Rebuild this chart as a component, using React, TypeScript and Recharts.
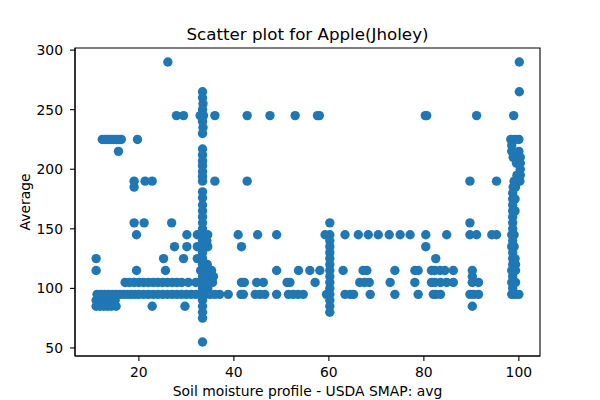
import React from 'react';
import { ScatterChart, Scatter, XAxis, YAxis, ReferenceArea } from 'recharts';

// Average levels (y) and the soil-moisture readings (x) observed at each level
const avg290 = [26.1, 100.1];
const avg265 = [33.4, 100.1];
const avg260 = [33.4];
const avg255 = [33.5];
const avg250 = [33.4];
const avg245 = [27.9, 29.4, 32.9, 33.6, 36.0, 42.8, 47.6, 52.9, 57.6, 58.0, 80.3, 80.6, 91.1, 98.9];
const avg240 = [33.4];
const avg235 = [33.5];
const avg230 = [33.4];
const avg225 = [12.3, 12.9, 13.5, 14.1, 14.7, 15.3, 15.9, 16.3, 19.7, 98.3, 99.2, 100.0];
const avg220 = [98.5];
const avg217 = [33.4];
const avg215 = [15.7, 98.5, 100.0];
const avg212 = [33.4];
const avg210 = [98.8, 100.3];
const avg207 = [33.4];
const avg205 = [99.5, 100.3];
const avg203 = [33.4];
const avg200 = [100.3];
const avg198 = [33.4];
const avg195 = [99.6, 100.3];
const avg194 = [33.4];
const avg190 = [19.0, 21.3, 22.8, 33.4, 36.0, 42.8, 89.7, 95.3, 99.0, 100.2];
const avg185 = [19.0, 98.8, 99.3];
const avg181 = [33.4];
const avg180 = [98.7];
const avg176 = [33.4];
const avg175 = [98.7, 99.2];
const avg170 = [33.4, 98.7];
const avg165 = [33.4, 98.7, 99.2];
const avg160 = [33.4, 98.7];
const avg155 = [19.0, 21.1, 26.9, 33.4, 60.2, 89.7, 98.7];
const avg150 = [33.4, 98.7];
const avg145 = [19.5, 30.1, 32.3, 33.4, 34.5, 40.9, 45.0, 49.0, 59.2, 60.2, 63.4, 66.2, 68.3, 70.4, 72.7, 75.0, 77.1, 80.4, 84.8, 89.7, 91.1, 94.3, 95.3, 98.5, 99.0];
const avg140 = [33.4, 34.3, 60.2, 98.7];
const avg135 = [27.5, 30.1, 32.3, 33.4, 34.5, 41.6, 60.2, 80.4, 98.5, 99.0];
const avg130 = [33.4, 60.2, 98.7];
const avg125 = [11.0, 25.2, 29.4, 32.3, 33.4, 60.2, 82.5, 98.7, 99.2];
const avg120 = [33.4, 34.4, 60.2, 98.7, 99.3];
const avg115 = [11.0, 19.5, 25.6, 33.0, 34.2, 35.3, 49.0, 53.6, 56.0, 58.1, 60.2, 63.0, 67.2, 68.0, 73.9, 78.1, 78.8, 81.6, 82.3, 83.4, 84.4, 86.2, 90.2, 98.5, 99.3];
const avg110 = [33.4, 34.6, 35.7, 60.2, 90.2, 98.7];
const avg105 = [17.1, 18.0, 19.0, 20.0, 21.0, 22.0, 23.0, 24.0, 25.0, 26.0, 27.0, 28.0, 29.0, 30.4, 32.0, 33.0, 34.0, 35.5, 41.6, 42.2, 44.8, 46.2, 51.2, 51.8, 57.1, 60.2, 66.5, 67.5, 68.5, 72.9, 78.1, 81.6, 82.3, 83.5, 84.8, 86.2, 90.2, 91.5, 98.5, 99.3];
const avg100 = [33.4, 34.5, 60.2, 98.7];
const avg95 = [11.2, 12.0, 12.8, 13.6, 14.4, 15.2, 16.0, 16.8, 17.6, 18.4, 19.2, 20.0, 21.0, 22.0, 23.0, 24.0, 25.0, 26.0, 27.0, 28.0, 29.0, 30.0, 31.0, 32.0, 33.0, 34.0, 35.0, 36.0, 37.0, 38.8, 41.5, 42.0, 44.5, 45.5, 46.5, 49.0, 51.5, 52.5, 53.5, 54.6, 59.5, 60.2, 63.4, 64.5, 65.2, 68.7, 73.9, 78.8, 82.0, 82.5, 83.5, 89.7, 90.5, 91.5, 98.5, 99.3, 100.0];
const avg90 = [11.0, 11.8, 12.6, 13.4, 14.2, 15.0, 33.4, 60.2];
const avg85 = [11.0, 11.8, 12.6, 13.4, 14.2, 15.2, 22.8, 29.7, 33.4, 60.2, 90.2];
const avg80 = [33.4, 60.2];
const avg75 = [33.4];
const avg55 = [33.4];

const levels: [number, number[]][] = [
  [290, avg290], [265, avg265], [260, avg260], [255, avg255], [250, avg250],
  [245, avg245], [240, avg240], [235, avg235], [230, avg230], [225, avg225],
  [220, avg220], [217, avg217], [215, avg215], [212, avg212], [210, avg210],
  [207, avg207], [205, avg205], [203, avg203], [200, avg200], [198, avg198],
  [195, avg195], [194, avg194], [190, avg190], [185, avg185], [181, avg181],
  [180, avg180], [176, avg176], [175, avg175], [170, avg170], [165, avg165],
  [160, avg160], [155, avg155], [150, avg150], [145, avg145], [140, avg140],
  [135, avg135], [130, avg130], [125, avg125], [120, avg120], [115, avg115],
  [110, avg110], [105, avg105], [100, avg100], [95, avg95], [90, avg90],
  [85, avg85], [80, avg80], [75, avg75], [55, avg55],
];

const xTicks = [20, 40, 60, 80, 100];
const yTicks = [50, 100, 150, 200, 250, 300];

const points = levels.flatMap(([y, xs]) => xs.map((x) => ({ x, y })));

const FONT = '"DejaVu Sans", sans-serif';
const tickStyle = { fontFamily: FONT, fontSize: 13.9, fill: '#000' };
const X_DOMAIN: [number, number] = [6.55, 104.45];
const Y_DOMAIN: [number, number] = [43.25, 301.75];

const Dot = (p: any) => <circle cx={p.cx} cy={p.cy} r={4.7} fill="#1f77b4" />;

export default function App() {
  return (
    <div style={{ position: 'absolute', left: 0, top: 0, width: 600, height: 400, background: '#fff' }}>
      <ScatterChart width={600} height={400} margin={{ top: 48, right: 60, bottom: 0, left: 0 }}>
        <XAxis
          type="number"
          dataKey="x"
          domain={X_DOMAIN}
          ticks={xTicks}
          allowDataOverflow
          height={44}
          tickSize={5}
          tickMargin={6}
          tick={tickStyle}
          axisLine={{ stroke: '#000', strokeWidth: 1.1 }}
          tickLine={{ stroke: '#000', strokeWidth: 1.1 }}
        />
        <YAxis
          type="number"
          dataKey="y"
          domain={Y_DOMAIN}
          ticks={yTicks}
          allowDataOverflow
          width={75}
          tickSize={5}
          tickMargin={7}
          tick={tickStyle}
          axisLine={{ stroke: '#000', strokeWidth: 1.1 }}
          tickLine={{ stroke: '#000', strokeWidth: 1.1 }}
        />
        <Scatter data={points} isAnimationActive={false} shape={Dot} />
        <ReferenceArea
          x1={X_DOMAIN[0]}
          x2={X_DOMAIN[1]}
          y1={Y_DOMAIN[0]}
          y2={Y_DOMAIN[1]}
          ifOverflow="visible"
          fill="none"
          fillOpacity={0}
          stroke="#000"
          strokeWidth={1.1}
        />
      </ScatterChart>
      <svg width={600} height={400} style={{ position: 'absolute', left: 0, top: 0, pointerEvents: 'none' }}>
        <text x={307.5} y={40} textAnchor="middle" fontFamily={FONT} fontSize={16.7} fill="#000">
          Scatter plot for Apple(Jholey)
        </text>
        <text x={307.5} y={396} textAnchor="middle" fontFamily={FONT} fontSize={13.9} fill="#000">
          Soil moisture profile - USDA SMAP: avg
        </text>
        <text
          x={29.5}
          y={202}
          textAnchor="middle"
          fontFamily={FONT}
          fontSize={13.9}
          fill="#000"
          transform="rotate(-90 29.5 202)"
        >
          Average
        </text>
      </svg>
    </div>
  );
}
